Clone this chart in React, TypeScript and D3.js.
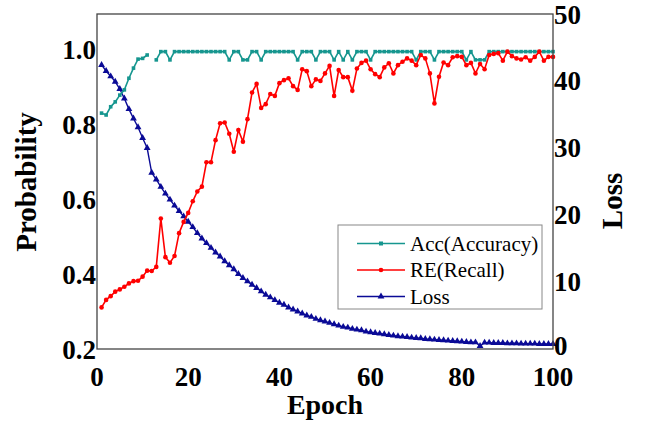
import * as d3 from 'd3';

const epochs = d3.range(1, 101);

// Acc(Accuracy), one value per epoch (null = gap in the line)
const accuracy: (number | null)[] = [
  0.829, 0.824, 0.846, 0.859, 0.877, 0.891, 0.922, 0.949, 0.973, 0.975,
  0.984, null, 0.971, 0.993, 0.993, 0.971, 0.993, 0.993, 0.993, 0.993,
  0.993, 0.993, 0.993, 0.993, 0.993, 0.993, 0.993, 0.993, 0.971, 0.993,
  0.993, 0.971, 0.971, 0.993, 0.993, 0.971, 0.993, 0.993, 0.993, 0.993,
  0.993, 0.993, 0.993, 0.971, 0.993, 0.993, 0.993, 0.971, 0.993, 0.993,
  0.993, 0.971, 0.993, 0.971, 0.993, 0.971, 0.993, 0.993, 0.993, 0.971,
  0.993, 0.993, 0.993, 0.993, 0.993, 0.993, 0.993, 0.993, 0.993, 0.971,
  0.993, 0.993, 0.993, 0.971, 0.993, 0.993, 0.993, 0.993, 0.993, 0.993,
  0.971, 0.993, 0.971, 0.971, 0.971, 0.993, 0.993, 0.993, 0.993, 0.993,
  0.993, 0.993, 0.993, 0.993, 0.993, 0.993, 0.993, 0.993, 0.993, 0.993,
];

// RE(Recall)
const recall: number[] = [
  0.311, 0.331, 0.341, 0.353, 0.359, 0.366, 0.375, 0.381, 0.382, 0.393,
  0.409, 0.408, 0.419, 0.548, 0.445, 0.43, 0.448, 0.509, 0.539, 0.563,
  0.594, 0.62, 0.633, 0.698, 0.698, 0.757, 0.802, 0.804, 0.774, 0.726,
  0.784, 0.753, 0.813, 0.884, 0.907, 0.843, 0.853, 0.88, 0.875, 0.909,
  0.917, 0.922, 0.901, 0.891, 0.946, 0.941, 0.901, 0.919, 0.915, 0.935,
  0.955, 0.875, 0.944, 0.925, 0.925, 0.889, 0.948, 0.963, 0.969, 0.946,
  0.933, 0.925, 0.951, 0.962, 0.935, 0.957, 0.966, 0.975, 0.969, 0.957,
  0.984, 0.975, 0.935, 0.855, 0.926, 0.964, 0.957, 0.978, 0.981, 0.979,
  0.957, 0.963, 0.935, 0.96, 0.946, 0.984, 0.987, 0.989, 0.969, 0.993,
  0.981, 0.975, 0.972, 0.978, 0.969, 0.979, 0.993, 0.969, 0.979, 0.979,
];

// Loss (right axis)
const loss: number[] = [
  42.4, 41.5, 40.7, 39.9, 38.8, 37.4, 35.8, 34.4, 33.1, 31.5,
  30.0, 26.3, 25.3, 24.2, 23.2, 22.3, 21.4, 20.6, 19.8, 19.0,
  18.2, 17.3, 16.5, 15.8, 15.1, 14.4, 13.8, 13.1, 12.5, 11.9,
  11.2, 10.6, 10.1, 9.6, 9.1, 8.6, 8.1, 7.7, 7.3, 6.9,
  6.6, 6.2, 5.9, 5.6, 5.3, 5.0, 4.8, 4.5, 4.3, 4.1,
  3.9, 3.7, 3.5, 3.3, 3.2, 3.0, 2.9, 2.8, 2.6, 2.5,
  2.4, 2.3, 2.2, 2.1, 2.0, 1.9, 1.85, 1.8, 1.7, 1.65,
  1.6, 1.5, 1.45, 1.4, 1.35, 1.3, 1.25, 1.2, 1.15, 1.1,
  1.05, 1.0, 1.0, 0.45, 0.95, 0.95, 0.9, 0.9, 0.9, 0.85,
  0.85, 0.85, 0.8, 0.8, 0.8, 0.8, 0.75, 0.75, 0.75, 0.75,
];

const xTicks = [0, 20, 40, 60, 80, 100];
const leftTicks = [0.2, 0.4, 0.6, 0.8, 1.0];
const rightTicks = [0, 10, 20, 30, 40, 50];

const legendItems = [
  { label: 'Acc(Accuracy)', color: '#16968f', marker: 'square' },
  { label: 'RE(Recall)', color: '#ff0000', marker: 'circle' },
  { label: 'Loss', color: '#0a0a96', marker: 'triangle' },
];

const W = 649;
const H = 426;
const left = 97;
const right = 553;
const top = 14;
const bottom = 349;
const serif = { fontFamily: "'Liberation Serif', serif" };

export default function App() {
  const x = d3.scaleLinear().domain([0, 100]).range([left, right]);
  // 0.2 -> bottom, 1.0 -> y 49
  const pxPerUnit = (bottom - 49) / 0.8;
  const yL = d3
    .scaleLinear()
    .domain([0.2, 0.2 + (bottom - top) / pxPerUnit])
    .range([bottom, top]);
  const yR = d3.scaleLinear().domain([0, 50]).range([bottom, top]);

  const accPts = epochs.map((e, i) => [e, accuracy[i]] as [number, number | null]);
  const recPts = epochs.map((e, i) => [e, recall[i]] as [number, number]);
  const lossPts = epochs.map((e, i) => [e, loss[i]] as [number, number]);

  const accLine = d3
    .line<[number, number | null]>()
    .defined((d) => d[1] != null)
    .x((d) => x(d[0]))
    .y((d) => yL(d[1] as number));
  const recLine = d3
    .line<[number, number]>()
    .x((d) => x(d[0]))
    .y((d) => yL(d[1]));
  const lossLine = d3
    .line<[number, number]>()
    .x((d) => x(d[0]))
    .y((d) => yR(d[1]));

  const tri = d3.symbol().type(d3.symbolTriangle).size(20)() as string;

  const lx = 338;
  const ly = 225;

  return (
    <svg width={W} height={H} style={{ position: 'absolute', left: 0, top: 0, background: '#fff' }}>
      <rect x={0} y={0} width={W} height={H} fill="#fff" />

      {/* loss */}
      <path d={lossLine(lossPts) as string} fill="none" stroke="#0a0a96" strokeWidth={1.4} />
      {lossPts.map((d) => (
        <path key={'l' + d[0]} d={tri} transform={`translate(${x(d[0])},${yR(d[1])})`} fill="#0a0a96" />
      ))}

      {/* accuracy */}
      <path d={accLine(accPts) as string} fill="none" stroke="#16968f" strokeWidth={1.6} />
      {accPts
        .filter((d) => d[1] != null)
        .map((d) => (
          <rect
            key={'a' + d[0]}
            x={x(d[0]) - 1.8}
            y={yL(d[1] as number) - 1.8}
            width={3.6}
            height={3.6}
            fill="#16968f"
          />
        ))}

      {/* recall */}
      <path d={recLine(recPts) as string} fill="none" stroke="#ff0000" strokeWidth={1.6} />
      {recPts.map((d) => (
        <circle key={'r' + d[0]} cx={x(d[0])} cy={yL(d[1])} r={2.3} fill="#ff0000" />
      ))}

      {/* frame */}
      <rect x={left} y={top} width={right - left} height={bottom - top} fill="none" stroke="#444" strokeWidth={1.3} />

      {/* x ticks */}
      {xTicks.map((t) => (
        <text key={'x' + t} x={x(t)} y={386} textAnchor="middle" fontSize={27} fontWeight="bold" style={serif}>
          {t}
        </text>
      ))}
      {/* left ticks */}
      {leftTicks.map((t) => (
        <text key={'yl' + t} x={left - 1} y={yL(t) + 10} textAnchor="end" fontSize={27} fontWeight="bold" style={serif}>
          {t.toFixed(1)}
        </text>
      ))}
      {/* right ticks */}
      {rightTicks.map((t) => (
        <text key={'yr' + t} x={right + 1} y={yR(t) + (t === 0 ? 6 : t === 50 ? 10 : 9)} textAnchor="start" fontSize={27} fontWeight="bold" style={serif}>
          {t}
        </text>
      ))}

      <text x={325} y={414} textAnchor="middle" fontSize={28} fontWeight="bold" style={serif}>
        Epoch
      </text>
      <text transform="translate(36,182) rotate(-90)" textAnchor="middle" fontSize={29} fontWeight="bold" style={serif}>
        Probability
      </text>
      <text transform="translate(622,201) rotate(-90)" textAnchor="middle" fontSize={29} fontWeight="bold" style={serif}>
        Loss
      </text>

      {/* legend */}
      <rect x={lx} y={ly} width={204} height={84} fill="#fff" stroke="#888" strokeWidth={1} />
      {legendItems.map((it, i) => {
        const cy = 243.5 + i * 26.5;
        return (
          <g key={it.label}>
            <line x1={357} x2={405} y1={cy} y2={cy} stroke={it.color} strokeWidth={1.6} />
            {it.marker === 'square' && <rect x={379} y={cy - 2} width={4} height={4} fill={it.color} />}
            {it.marker === 'circle' && <circle cx={381} cy={cy} r={2.3} fill={it.color} />}
            {it.marker === 'triangle' && <path d={tri} transform={`translate(381,${cy})`} fill={it.color} />}
            <text x={410} y={cy + 7} fontSize={21} style={serif}>
              {it.label}
            </text>
          </g>
        );
      })}
    </svg>
  );
}
